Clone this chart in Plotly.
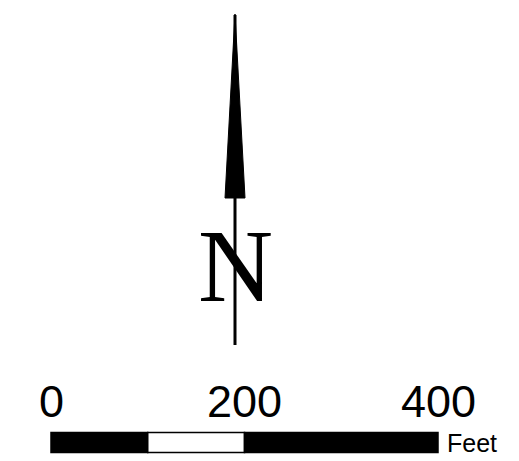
import plotly.graph_objects as go

# Scale bar data (feet)
scale_ticks = [0, 200, 400]
scale_tick_labels = ["0", "200", "400"]
seg_edges = [0, 100, 200, 400]
seg_colors = ["black", "white", "black"]
unit_label = "Feet"

# North arrow (drawn in a pixel-like reference frame)
arrow_x = [225, 235, 245, 225]
arrow_y = [198, 14, 198, 198]
shaft_x = [235, 235]
shaft_y = [15, 345]
north_label = "N"

W, H = 519, 461
OFF = 8  # page body margin
px_per_ft = (438 - 51) / 400.0
x0_px = 51

fig = go.Figure()

# scale bar segments
for i in range(len(seg_colors)):
    fig.add_trace(go.Bar(
        orientation="h",
        y=[442.5], x=[seg_edges[i + 1] - seg_edges[i]], base=[seg_edges[i]],
        width=20,
        marker=dict(color=seg_colors[i], line=dict(color="black", width=1.5)),
        showlegend=False, hoverinfo="skip", xaxis="x", yaxis="y",
    ))

# north arrow shaft
fig.add_trace(go.Scatter(x=shaft_x, y=shaft_y, mode="lines",
                         line=dict(color="black", width=3),
                         showlegend=False, hoverinfo="skip", xaxis="x2", yaxis="y"))
# north arrow head
fig.add_trace(go.Scatter(x=arrow_x, y=arrow_y, mode="lines", fill="toself",
                         fillcolor="black", line=dict(color="black", width=1),
                         showlegend=False, hoverinfo="skip", xaxis="x2", yaxis="y"))

annotations = []
for t, lab in zip(scale_ticks, scale_tick_labels):
    annotations.append(dict(x=t, y=401, xref="x", yref="y", text=lab, showarrow=False,
                            xanchor="center", yanchor="middle",
                            font=dict(family="Liberation Sans, Arial", size=45, color="black")))
annotations.append(dict(x=445, y=443, xref="x2", yref="y", text=unit_label, showarrow=False,
                        xanchor="left", yanchor="middle",
                        font=dict(family="Liberation Sans, Arial", size=25, color="black")))
annotations.append(dict(x=235.5, y=265, xref="x2", yref="y", text=north_label, showarrow=False,
                        xanchor="center", yanchor="middle",
                        font=dict(family="Liberation Serif, Times New Roman", size=104, color="black")))

fig.update_layout(
    width=W - OFF, height=H - OFF,
    margin=dict(l=0, r=0, t=0, b=0),
    paper_bgcolor="white", plot_bgcolor="white",
    barmode="overlay",
    xaxis=dict(range=[(OFF - x0_px) / px_per_ft, (W - x0_px) / px_per_ft], visible=False, fixedrange=True),
    xaxis2=dict(range=[OFF, W], overlaying="x", visible=False, fixedrange=True),
    yaxis=dict(range=[H, OFF], visible=False, fixedrange=True),
    annotations=annotations,
)

fig.write_html("out.html")
